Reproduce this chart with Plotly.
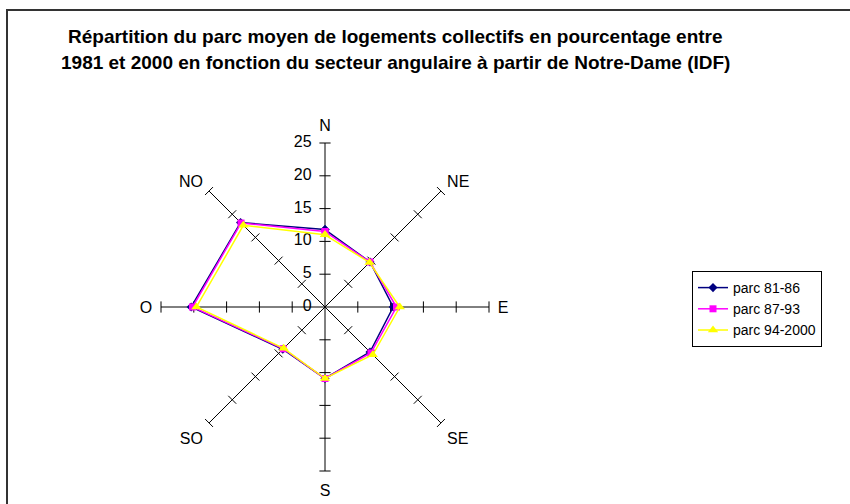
import plotly.graph_objects as go

# Angular sectors seen from Notre-Dame (clockwise from north)
sectors = ["N", "NE", "E", "SE", "S", "SO", "O", "NO"]
sector_bearing = [0, 45, 90, 135, 180, 225, 270, 315]

# Share of the average collective housing stock (%) per sector
parc_81_86 = [11.8, 9.7, 10.4, 9.7, 10.9, 9.1, 20.4, 18.2]
parc_87_93 = [11.5, 9.7, 10.9, 9.9, 10.9, 9.0, 20.2, 18.1]
parc_94_2000 = [11.0, 9.6, 11.4, 10.3, 10.9, 8.9, 19.6, 17.6]

series_names = ["parc 81-86", "parc 87-93", "parc 94-2000"]
radial_ticks = [0, 5, 10, 15, 20, 25]

FONT = "Liberation Sans, Arial, sans-serif"

fig = go.Figure()

# Cross tick marks on every spoke, perpendicular to the spoke
tick_r, tick_theta, tick_angle = [], [], []
for name, bearing in zip(sectors, sector_bearing):
    for v in radial_ticks[1:]:
        tick_r.append(v)
        tick_theta.append(name)
        tick_angle.append(bearing)
fig.add_trace(go.Scatterpolar(
    r=tick_r, theta=tick_theta, mode="markers",
    marker=dict(symbol="line-ew", size=8, angle=tick_angle,
                line=dict(color="black", width=1)),
    showlegend=False, hoverinfo="skip",
))

# Value labels along the north spoke, horizontal, left of the axis
fig.add_trace(go.Scatterpolar(
    r=radial_ticks, theta=["N"] * len(radial_ticks), mode="text",
    text=[f"{v}   " for v in radial_ticks], textposition="middle left",
    textfont=dict(size=16, family=FONT, color="black"),
    showlegend=False, hoverinfo="skip", cliponaxis=False,
))

styles = [
    dict(color="#000080", symbol="diamond", size=7),
    dict(color="#FF00FF", symbol="square", size=7),
    dict(color="#FFFF00", symbol="triangle-up", size=9),
]
for name, vals, st in zip(series_names, [parc_81_86, parc_87_93, parc_94_2000], styles):
    fig.add_trace(go.Scatterpolar(
        r=vals + vals[:1], theta=sectors + sectors[:1],
        mode="lines+markers", name=name,
        line=dict(color=st["color"], width=1.5),
        marker=dict(color=st["color"], symbol=st["symbol"], size=st["size"]),
    ))

fig.update_layout(
    width=850, height=504,
    margin=dict(l=0, r=0, t=0, b=0),
    paper_bgcolor="white",
    font=dict(family=FONT, color="black", size=15),
    polar=dict(
        domain=dict(x=[161 / 850, 489 / 850], y=[33 / 504, 361 / 504]),
        bgcolor="white",
        angularaxis=dict(
            direction="clockwise", rotation=90,
            showline=False, showgrid=True, gridcolor="black", gridwidth=1,
            ticks="outside", ticklen=5, tickcolor="rgba(0,0,0,0)",
            tickfont=dict(size=16, family=FONT),
        ),
        radialaxis=dict(
            range=[0, 25], angle=90,
            tickvals=radial_ticks, ticks="", showline=False, showgrid=False,
            showticklabels=False,
        ),
    ),
    legend=dict(
        x=692 / 850, y=1 - 271 / 504, xanchor="left", yanchor="top",
        bordercolor="black", borderwidth=1, bgcolor="white",
        font=dict(size=14, family=FONT), tracegroupgap=0,
    ),
    annotations=[
        dict(text="<b>Répartition du parc moyen de logements collectifs en pourcentage entre</b>",
             x=395 / 850, y=1 - 37 / 504, xref="paper", yref="paper",
             xanchor="center", yanchor="middle",
             showarrow=False, font=dict(size=19, family=FONT)),
        dict(text="<b>1981 et 2000 en fonction du secteur angulaire à partir de Notre-Dame (IDF)</b>",
             x=395 / 850, y=1 - 62 / 504, xref="paper", yref="paper",
             xanchor="center", yanchor="middle",
             showarrow=False, font=dict(size=19, family=FONT)),
    ],
    shapes=[
        dict(type="rect", xref="paper", yref="paper",
             x0=7 / 850, x1=1.05, y0=-0.05, y1=1 - 10 / 504,
             line=dict(color="#333333", width=2)),
    ],
)

fig.write_html("out.html")
